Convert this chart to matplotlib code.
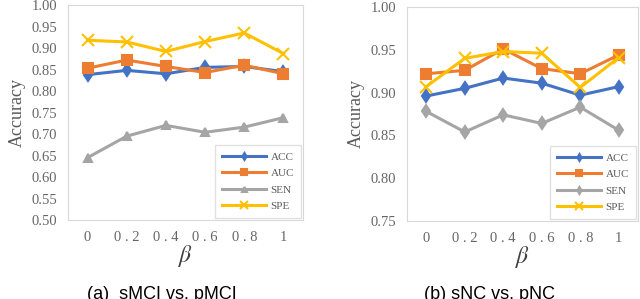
import numpy as np
import matplotlib.pyplot as plt

plt.rcParams['mathtext.fontset'] = 'stix'

betas = ['0', '0 . 2', '0 . 4', '0 . 6', '0 . 8', '1']

# (a) sMCI vs. pMCI
acc_a = [0.838, 0.848, 0.840, 0.855, 0.857, 0.845]
auc_a = [0.853, 0.872, 0.857, 0.843, 0.860, 0.840]
sen_a = [0.645, 0.695, 0.720, 0.704, 0.716, 0.738]
spe_a = [0.918, 0.914, 0.892, 0.915, 0.935, 0.887]

# (b) sNC vs. pNC
acc_b = [0.896, 0.905, 0.917, 0.911, 0.897, 0.907]
auc_b = [0.922, 0.926, 0.951, 0.928, 0.922, 0.944]
sen_b = [0.878, 0.854, 0.874, 0.864, 0.883, 0.856]
spe_b = [0.907, 0.940, 0.948, 0.946, 0.906, 0.941]

colors = {'ACC': '#4472C4', 'AUC': '#ED7D31', 'SEN': '#A5A5A5', 'SPE': '#FFC000'}

fig = plt.figure(figsize=(6.4, 2.99), dpi=100)
serif = 'Liberation Serif'


def panel(rect, series, markers, ylim, yticks, caption, cap_x):
    ax = fig.add_axes(rect)
    x = np.arange(len(betas))
    for (name, vals), mk in zip(series, markers):
        ms = 7 if mk == 's' else (9 if mk == 'x' else 6)
        ax.plot(x, vals, color=colors[name], marker=mk, ms=ms, lw=2.2,
                mew=1.5, label=name)
    ax.set_xlim(-0.5, len(betas) - 0.5)
    ax.set_ylim(*ylim)
    ax.set_yticks(yticks)
    ax.set_yticklabels(['%.2f' % v for v in yticks])
    ax.set_xticks(x)
    ax.set_xticklabels(betas)
    ax.tick_params(length=0, labelsize=10.5, labelcolor='#666666', pad=8)
    for lab in ax.get_xticklabels() + ax.get_yticklabels():
        lab.set_fontfamily(serif)
    for sp in ax.spines.values():
        sp.set_color('#D9D9D9')
    ax.set_ylabel('Accuracy', fontsize=13, family=serif, color='#595959', labelpad=4)
    ax.set_xlabel(r'$\beta$', fontsize=17, color='#404040', labelpad=-1)
    leg = ax.legend(loc='lower right', prop={'family': serif, 'size': 8},
                    handlelength=4, labelspacing=0.6, borderpad=0.6,
                    frameon=True, fancybox=False, edgecolor='#D9D9D9',
                    markerscale=0.6, borderaxespad=0.2, handletextpad=0.4)
    for t in leg.get_texts():
        t.set_color('#595959')
    fig.text(cap_x, 13 / 299, caption, ha='center', va='top', fontsize=13,
             family='Liberation Sans')
    return ax


panel([68 / 640, 79 / 299, 235 / 640, 215 / 299],
      [('ACC', acc_a), ('AUC', auc_a), ('SEN', sen_a), ('SPE', spe_a)],
      ['d', 's', '^', 'x'], (0.5, 1.0), np.arange(0.50, 1.001, 0.05),
      '(a)  sMCI vs. pMCI', 162 / 640)

panel([407 / 640, 78 / 299, 231 / 640, 214 / 299],
      [('ACC', acc_b), ('AUC', auc_b), ('SEN', sen_b), ('SPE', spe_b)],
      ['d', 's', 'd', 'x'], (0.75, 1.0), np.arange(0.75, 1.001, 0.05),
      '(b) sNC vs. pNC', 490 / 640)

fig.savefig('out.png', dpi=100)
